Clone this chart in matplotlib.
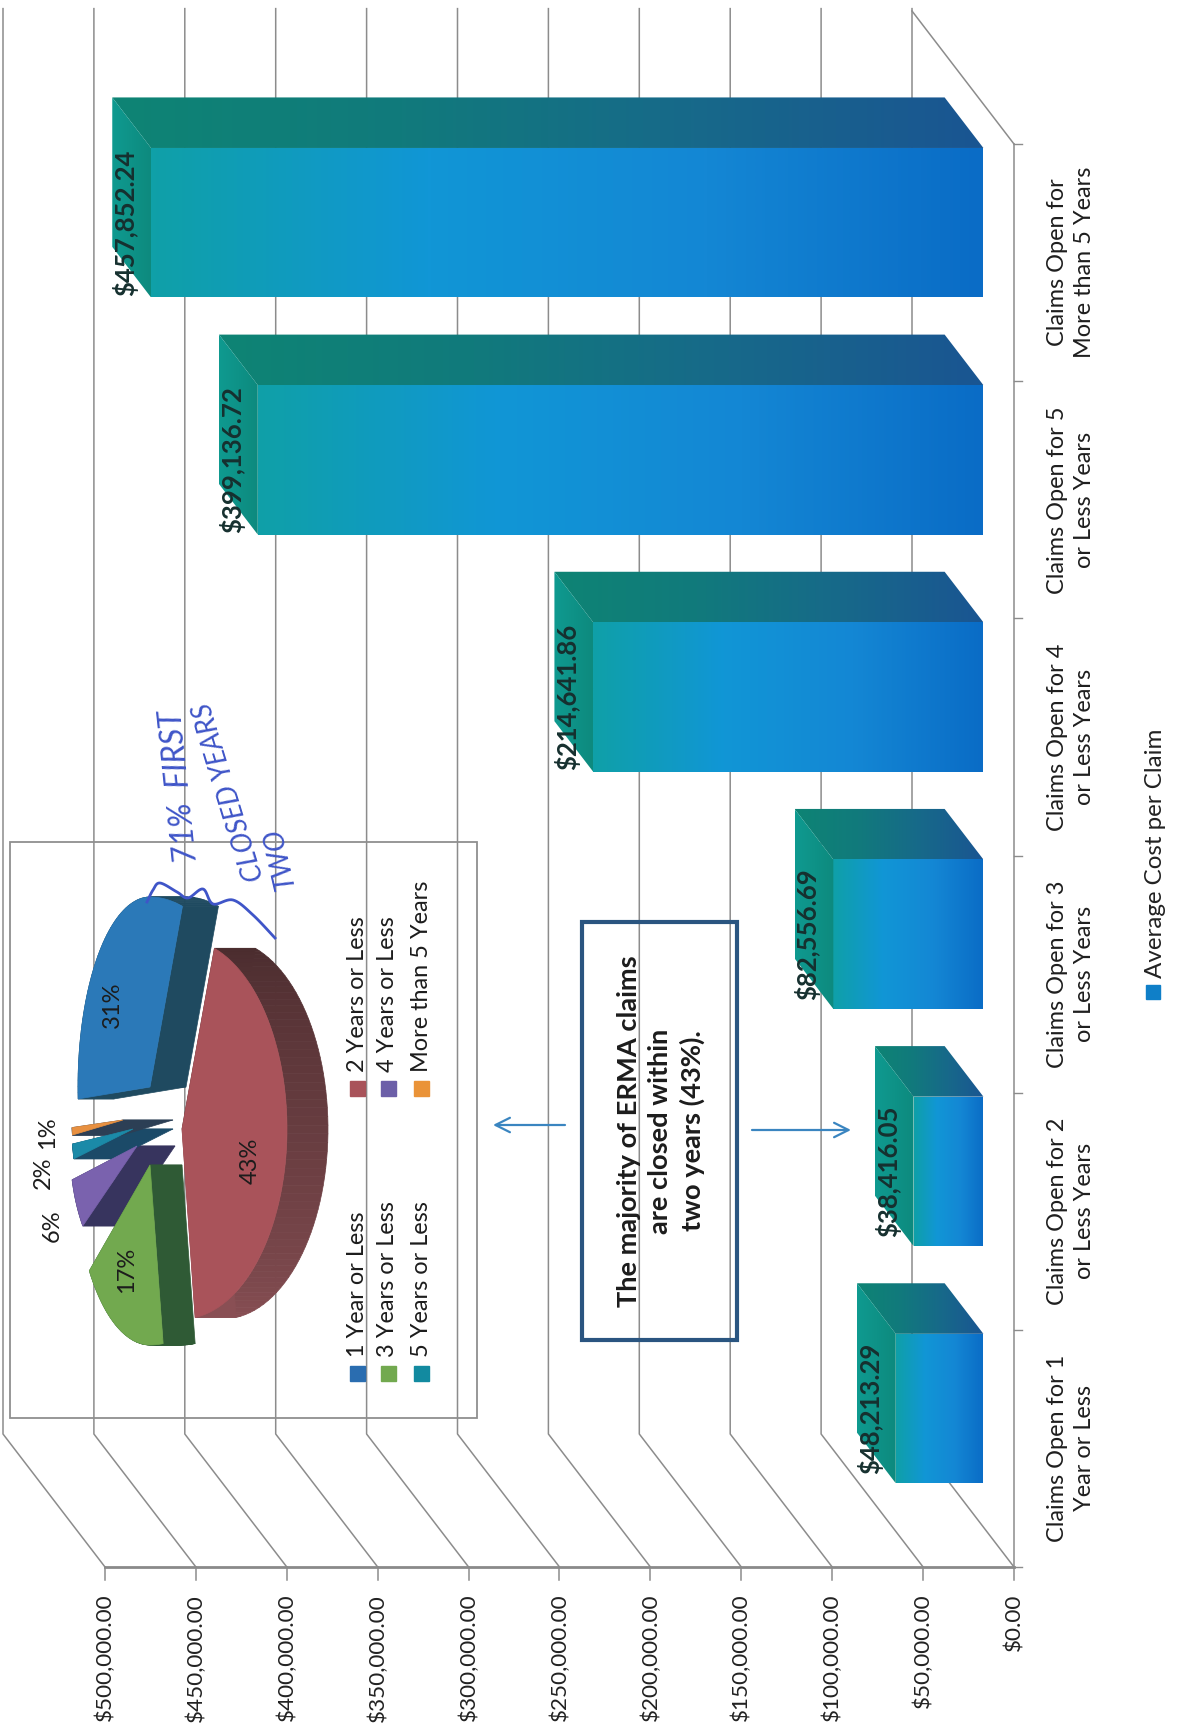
import numpy as np
import matplotlib
matplotlib.use("Agg")
import matplotlib.pyplot as plt
from matplotlib.colors import LinearSegmentedColormap, to_rgb
from matplotlib.patches import Polygon, Rectangle

plt.rcParams['font.family'] = ['Lato', 'DejaVu Sans']

categories = ["Claims Open for 1\nYear or Less", "Claims Open for 2\nor Less Years",
              "Claims Open for 3\nor Less Years", "Claims Open for 4\nor Less Years",
              "Claims Open for 5\nor Less Years", "Claims Open for\nMore than 5 Years"]
avg_cost = [48213.29, 38416.05, 82556.69, 214641.86, 399136.72, 457852.24]
value_labels = ["$48,213.29", "$38,416.05", "$82,556.69", "$214,641.86", "$399,136.72", "$457,852.24"]
axis_ticks = [0, 50000, 100000, 150000, 200000, 250000, 300000, 350000, 400000, 450000, 500000]
pie_names = ["1 Year or Less", "2 Years or Less", "3 Years or Less",
             "4 Years or Less", "5 Years or Less", "More than 5 Years"]
pie_shares = [31, 43, 17, 6, 2, 1]

W, H = 1181, 1732
fig = plt.figure(figsize=(W / 100, H / 100), dpi=100, facecolor='white')

# rotated chart: value axis runs right to left, categories bottom to top
X0, XK = 1014, 909 / 500000
Y0, YK = 1567, (1567 - 144) / 6
ax = fig.add_axes([0, 0, 1, 1])
XLIM = ((X0 - 0) / XK, (X0 - W) / XK)
YLIM = ((Y0 - H) / YK, Y0 / YK)
DV, DC = 102 / XK, 133 / YK


def proj(v, c, d=0.0):
    return v + d * DV, c + d * DC


def grad(poly, cols, vals):
    cm = LinearSegmentedColormap.from_list('g', cols)
    ys = [p[1] for p in poly]
    im = ax.imshow(np.linspace(0, 1, 256)[None, :], cmap=cm, aspect='auto', zorder=3,
                   extent=(min(vals), max(vals), min(ys), max(ys)), interpolation='bilinear')
    im.set_clip_path(Polygon(poly, closed=True, transform=ax.transData))


# gridlines
GRID = '#8c8c8c'
for v in axis_ticks:
    a = proj(v, 0)
    b = proj(v, 0, 1)
    c = proj(v, 6.0 + 0.0, 1)
    ax.plot([a[0], b[0], b[0]], [a[1], b[1], c[1] + 0.01], color=GRID, lw=1.1, zorder=1)
    ax.plot([v, v], [0, -0.055], color=GRID, lw=1.1, zorder=1)
    ax.text(v, -0.113, f"${v:,.2f}", rotation=90, ha='center', va='top', fontsize=16.2, color='#222222', zorder=6)
ax.plot([0, 500000], [0, 0], color='#8a8a8a', lw=2.0, zorder=1)
ax.plot([0, 0], [0, 6], color=GRID, lw=1.1, zorder=1)
e0, e1 = proj(0, 6), proj(0, 6, 1)
ax.plot([e0[0], e1[0]], [e0[1], e1[1]], color=GRID, lw=1.1, zorder=1)
for i in range(7):
    ax.plot([0, -4500], [i, i], color=GRID, lw=1.0, zorder=1)

# bars
HALF = 0.315
D_FRONT, D_BACK = 0.30, 0.68
front_cols = ['#0a6cc6', '#1487d4', '#1196d6', '#0fa0a8']
side_cols = ['#1a5592', '#17698a', '#117a7c', '#0e8474']
top_cols = ['#0d8a7e', '#0f9a90']
for i, (v, lab, cat) in enumerate(zip(avg_cost, value_labels, categories)):
    c = i + 0.5
    f00 = proj(0, c - HALF, D_FRONT)
    f10 = proj(v, c - HALF, D_FRONT)
    f11 = proj(v, c + HALF, D_FRONT)
    f01 = proj(0, c + HALF, D_FRONT)
    b01 = proj(0, c + HALF, D_BACK)
    b11 = proj(v, c + HALF, D_BACK)
    b10 = proj(v, c - HALF, D_BACK)
    front = [f00, f10, f11, f01]
    grad(front, front_cols, [f00[0], f10[0]])
    side = [f01, f11, b11, b01]
    grad(side, side_cols, [f01[0], b11[0]])
    top = [f10, f11, b11, b10]
    grad(top, top_cols, [f10[0], b11[0]])
    lx, ly = proj(v, c, D_BACK)
    ax.text(lx - 13 / XK, f10[1] + HALF, lab, rotation=90, ha='center', va='center',
            fontsize=18.5, fontweight='bold', color='#16302f', zorder=5)
    ax.text(-31353, c, cat, rotation=90, ha='center', va='center', multialignment='center',
            fontsize=16.9, color='#1e1e1e', linespacing=1.4, zorder=6)
ax.set_xlim(*XLIM)
ax.set_ylim(*YLIM)
ax.axis('off')

# overlay in image coordinates
px = fig.add_axes([0, 0, 1, 1], facecolor='none')
px.set_xlim(0, W)
px.set_ylim(H, 0)
px.axis('off')

# series legend
px.add_patch(Rectangle((1146, 985), 14, 14, color='#0f7fc8', zorder=6))
px.text(1155, 978, "Average Cost per Claim", rotation=90, ha='center', va='bottom', fontsize=17.4, color='#222222')

# inset box
px.add_patch(Rectangle((10, 842), 467, 576, fill=False, ec='#8f8f8f', lw=1.3, zorder=2))

# callout
px.add_patch(Rectangle((582, 922), 155, 418, fill=False, ec='#2a5580', lw=3.0, zorder=4))
px.text(661, 1131, "The majority of ERMA claims\nare closed within\ntwo years (43%).", rotation=90,
        ha='center', va='center', multialignment='center', fontsize=19.6, fontweight='bold',
        color='#1c1c1c', linespacing=1.34, zorder=5)
for x0, x1, y in [(565, 493, 1125), (752, 851, 1130)]:
    px.annotate('', xy=(x1, y), xytext=(x0, y), zorder=5,
                arrowprops=dict(arrowstyle='->', color='#3a85c0', lw=1.6, mutation_scale=26,
                                shrinkA=0, shrinkB=0))

# pie: wedge angles follow the shares
pie_style = [
    dict(apex=(150, 1087), rl=72, rr=105, b=190, t=36, top='#2b79b8', side=('#1f4a60', '#1f4a60')),
    dict(apex=(182, 1129), rl=105, rr=105, b=190, t=41, top='#a9535a', side=('#4a2c2e', '#8a5055')),
    dict(apex=(150, 1165), rl=75, rr=105, b=180, t=32, top='#72a94f', side=('#2f5a35', '#2f5a35')),
    dict(apex=(137, 1146), rl=67, rr=80, b=136, t=38, top='#7a62ae', side=('#37345e', '#37345e')),
    dict(apex=(133, 1129), rl=61, rr=80, b=120, t=40, top='#1b8aa8', side=('#1b4a68', '#1b4a68')),
    dict(apex=(123, 1120), rl=51, rr=80, b=120, t=50, top='#e89040', side=('#2c3f55', '#2c3f55')),
]
pie_legend_cols = ['#2a6db0', '#a9535a', '#72a94f', '#6c5fa8', '#128aa0', '#ea9338']
start = -72 - pie_shares[0] / sum(pie_shares) * 360
angles = start + np.cumsum([0] + pie_shares) / sum(pie_shares) * 360
order = [0, 3, 4, 5, 2, 1]
for k in order:
    s = pie_style[k]
    th = np.radians(np.linspace(angles[k], angles[k + 1], 60))
    cx, cy = s['apex']
    r = np.where(np.cos(th) > 0, s['rr'], s['rl'])
    arc = np.column_stack([cx + r * np.cos(th), cy + s['b'] * np.sin(th)])
    pts = np.vstack([[cx, cy], arc])
    n = len(pts)
    c0, c1 = np.array(to_rgb(s['side'][0])), np.array(to_rgb(s['side'][1]))
    for j in range(n):
        p, q = pts[j], pts[(j + 1) % n]
        col = c0 + (c1 - c0) * (j / n)
        px.add_patch(Polygon([p, q, q + [s['t'], 0], p + [s['t'], 0]], closed=True, fc=col, ec=col, lw=0.5, zorder=3))
    px.add_patch(Polygon(pts, closed=True, fc=s['top'], ec=s['top'], lw=0.5, zorder=4))

pie_label_pos = [(112, 1005), (250, 1161), (127, 1270), (52, 1226), (43, 1173), (48, 1133)]
for sh, (x, y) in zip(pie_shares, pie_label_pos):
    px.text(x, y, f"{sh}%", rotation=90, ha='center', va='center', fontsize=17, color='#1c1c1c', zorder=6)

# pie legend
rows_x = [357, 388, 421]
for k, (name, col) in enumerate(zip(pie_names, pie_legend_cols)):
    row, colm = k // 2, k % 2
    x = rows_x[row]
    sy = 1373 if colm == 0 else 1088
    px.add_patch(Rectangle((x - 7.5, sy - 7.5), 15, 15, color=col, zorder=5))
    px.text(x, sy - 16, name, rotation=90, ha='center', va='bottom', fontsize=16.9, color='#1c1c1c', zorder=6)

# handwritten note
INK = '#3f55c8'
px.text(180, 787, "71%  FIRST", rotation=96, ha='center', va='center', fontsize=23, style='italic', color=INK, zorder=7)
px.text(229, 792, "CLOSED YEARS", rotation=107, ha='center', va='center', fontsize=20, style='italic', color=INK, zorder=7)
px.text(280, 858, "TWO", rotation=103, ha='center', va='center', fontsize=20, style='italic', color=INK, zorder=7)
brace = np.array([[147, 902], [153, 890], [160, 883], [177, 892], [188, 898], [203, 889],
                  [213, 904], [233, 900], [253, 915], [275, 938]], dtype=float)
ctrl = np.vstack([brace[0], brace, brace[-1]])
tt = np.linspace(0, 1, 12)[:, None]
curve = []
for p0, p1, p2, p3 in zip(ctrl[:-3], ctrl[1:-2], ctrl[2:-1], ctrl[3:]):
    curve.append(0.5 * (2 * p1 + (p2 - p0) * tt + (2 * p0 - 5 * p1 + 4 * p2 - p3) * tt ** 2
                        + (3 * p1 - p0 - 3 * p2 + p3) * tt ** 3))
curve = np.vstack(curve)
px.plot(curve[:, 0], curve[:, 1], color=INK, lw=2.0, zorder=7)

fig.savefig('out.png', dpi=100)
